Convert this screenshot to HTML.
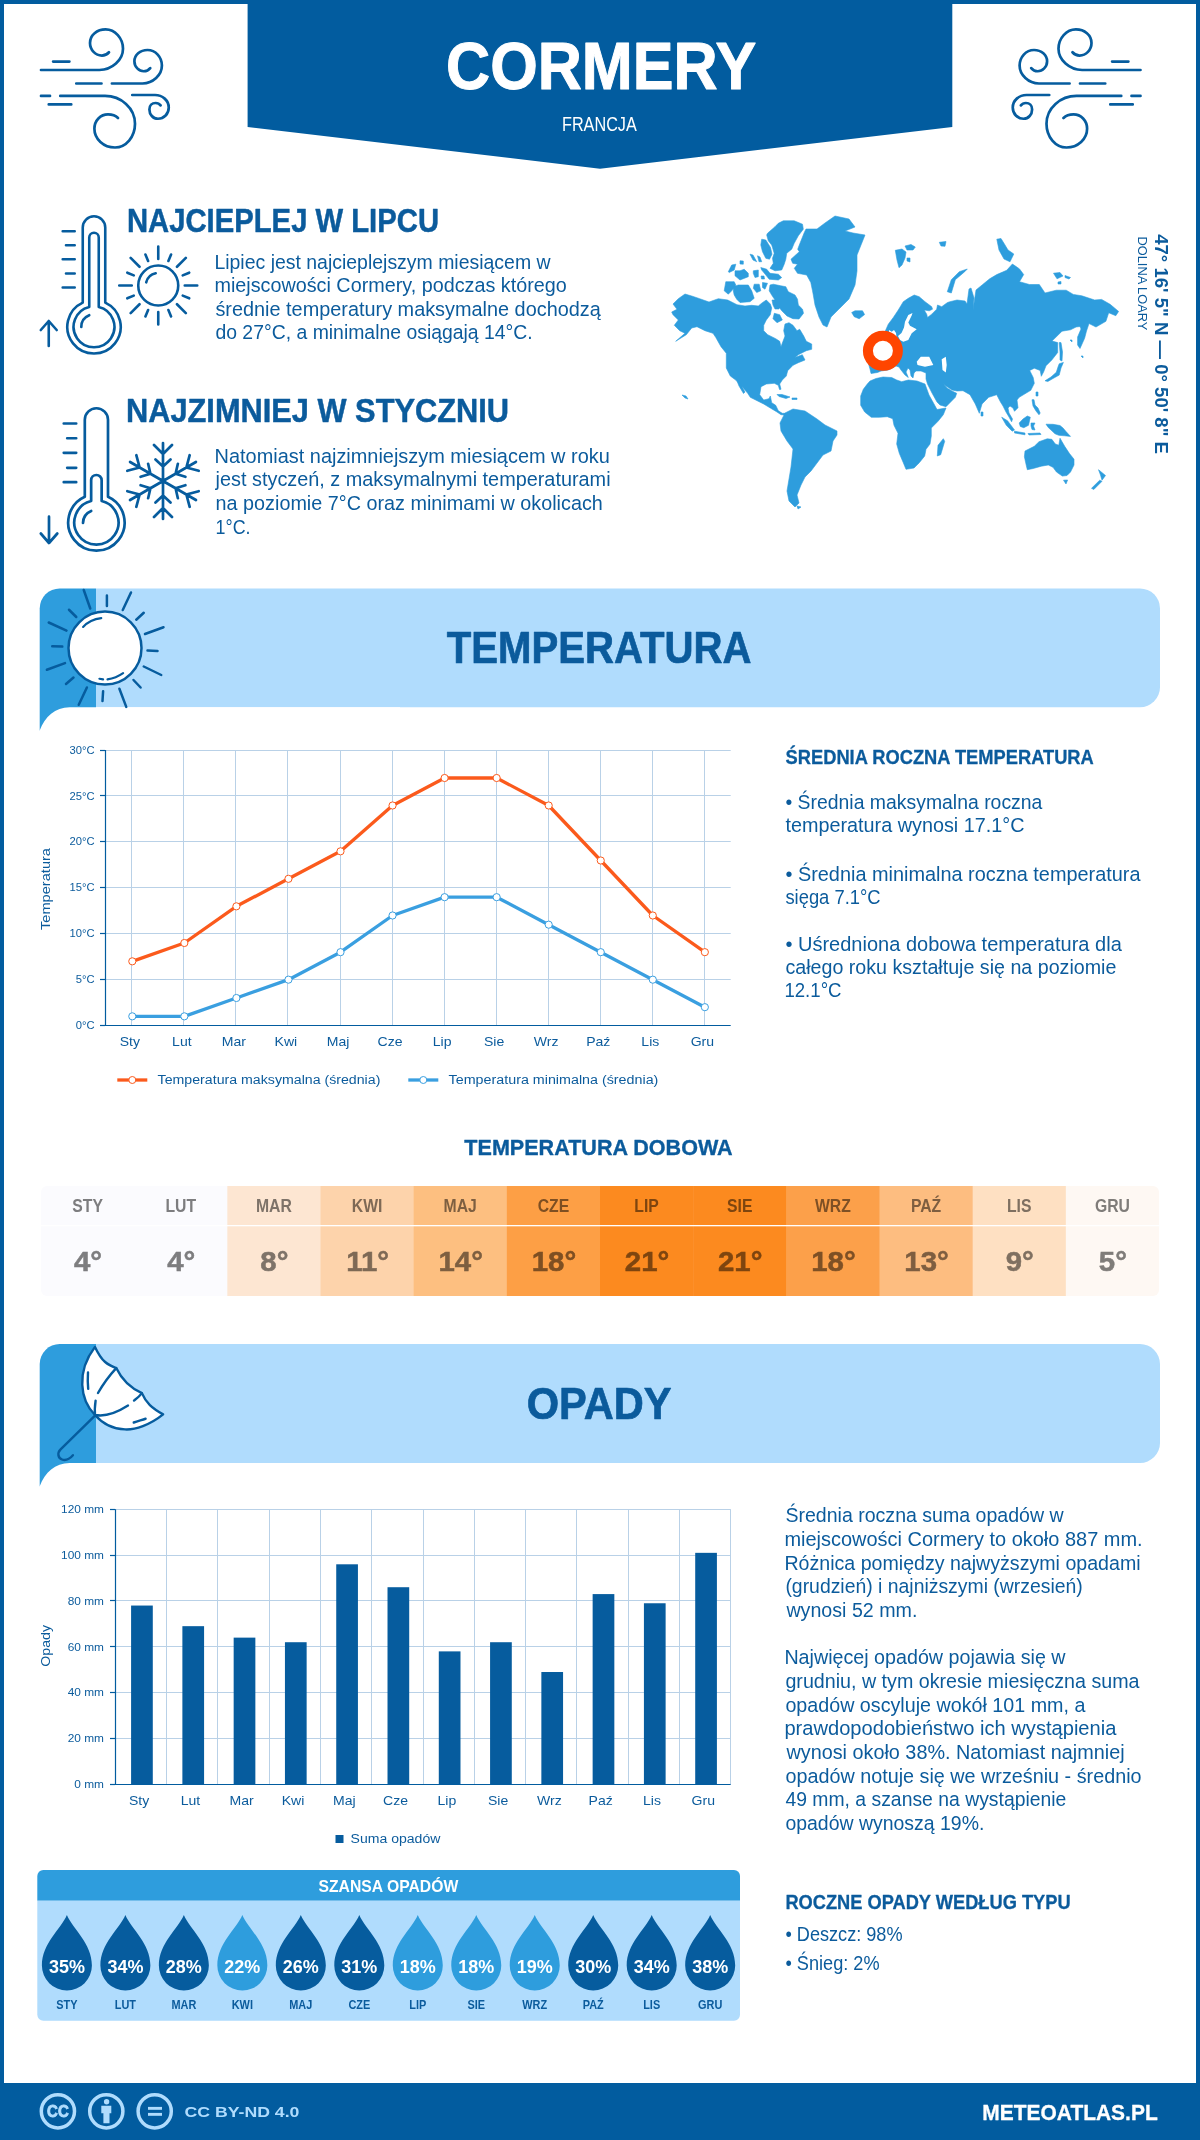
<!DOCTYPE html>
<html><head><meta charset="utf-8">
<style>
*{margin:0;padding:0;box-sizing:border-box}
html,body{width:1200px;height:2140px;overflow:hidden;background:#fff}
body{position:relative;font-family:"Liberation Sans",sans-serif;color:#0b5b9c}
svg{position:absolute;left:0;top:0;font-family:"Liberation Sans",sans-serif;will-change:transform}
</style></head><body>
<svg width="1200" height="2140" viewBox="0 0 1200 2140">

<rect x="2" y="2" width="1196" height="2140" fill="none" stroke="#025c9f" stroke-width="4"/>
<polygon points="247.6,0 952.3,0 952.3,126.9 600,168.75 247.6,126.9" fill="#025c9f"/>
<text x="446.00" y="89" font-size="66.5" textLength="310.19" lengthAdjust="spacingAndGlyphs" font-weight="bold" stroke="#fff" stroke-width="1.0" stroke-linejoin="round" fill="#fff" >CORMERY</text>
<text x="562.00" y="131" font-size="20" textLength="74.80" lengthAdjust="spacingAndGlyphs" fill="#fff" >FRANCJA</text>
<g fill="none" stroke="#065c9e" stroke-width="2.7" stroke-linecap="round"><path d="M53.1,61.6 H69.4 M41,70 H99.4 C112,70 123,60 123,48.75 C123,38 115,29.4 105.6,29.4 C97,29.4 90,35 90,43 C90,50 95.5,55.6 101.9,55.6 C105,55.6 107.5,54 109,52.25
M76.25,83.5 H101.5 M111.9,83.5 H142.5 C153,83.5 161.9,75 161.9,65.6 C161.9,57 155.5,50 147.5,50 C140,50 134.4,55 134.4,61.25 C134.4,67 139,71.25 143.75,71.25 C146.5,71.25 148.8,70 150.25,68.1
M41,95.9 H50 M60.25,95.9 H105 C121,95.9 135,108 135,123.75 C135,137 126,147.5 115,147.5 C103.5,147.5 94.4,139 94.4,128.75 C94.4,120.5 100.5,114.4 108,114.4 C112.5,114.4 116,116 118,118
M48.75,104.4 H71.25 M132.25,95 H155 C162.5,95 168.75,100.5 168.75,107.5 C168.75,114 164,118.75 158,118.75 C153,118.75 149.4,114.5 149.4,109.4 C149.4,105.5 152,103 155.6,103 C158,103 159.6,104 160.6,105.4"/></g>
<g fill="none" stroke="#065c9e" stroke-width="2.7" stroke-linecap="round" transform="translate(1181.5,0) scale(-1,1)"><path d="M53.1,61.6 H69.4 M41,70 H99.4 C112,70 123,60 123,48.75 C123,38 115,29.4 105.6,29.4 C97,29.4 90,35 90,43 C90,50 95.5,55.6 101.9,55.6 C105,55.6 107.5,54 109,52.25
M76.25,83.5 H101.5 M111.9,83.5 H142.5 C153,83.5 161.9,75 161.9,65.6 C161.9,57 155.5,50 147.5,50 C140,50 134.4,55 134.4,61.25 C134.4,67 139,71.25 143.75,71.25 C146.5,71.25 148.8,70 150.25,68.1
M41,95.9 H50 M60.25,95.9 H105 C121,95.9 135,108 135,123.75 C135,137 126,147.5 115,147.5 C103.5,147.5 94.4,139 94.4,128.75 C94.4,120.5 100.5,114.4 108,114.4 C112.5,114.4 116,116 118,118
M48.75,104.4 H71.25 M132.25,95 H155 C162.5,95 168.75,100.5 168.75,107.5 C168.75,114 164,118.75 158,118.75 C153,118.75 149.4,114.5 149.4,109.4 C149.4,105.5 152,103 155.6,103 C158,103 159.6,104 160.6,105.4"/></g>
<g fill="none" stroke="#065c9e" stroke-width="2.6" stroke-linecap="round" stroke-linejoin="round">
<path d="M82.75,302.6 V227.5 A11.25,11.25 0 0 1 105.25,227.5 V302.6 A26.7,26.7 0 1 1 82.75,302.6 Z"/>
<path d="M89.25,307 V237.5 A4.75,4.75 0 0 1 98.75,237.5 V307 A20.4,20.4 0 1 1 89.25,307 Z"/>
<path d="M81.3,327 A12.7,12.7 0 0 1 89.25,315.2"/>
<path d="M62.7,231.25 H74.7 M66,245.2 H74.7 M62.7,259.3 H74.7 M66,273.5 H74.7 M62.7,287.5 H74.7"/>
<path d="M48.75,346 V321 M40.8,330 L48.75,321 L56.7,330"/>
<circle cx="158.25" cy="285.5" r="20"/>
<path d="M146.2,282.3 A12.5,12.5 0 0 1 155.7,273.3"/>
<path d="M184.75,285.50 L197.25,285.50 M176.99,304.24 L185.83,313.08 M158.25,312.00 L158.25,324.50 M139.51,304.24 L130.67,313.08 M131.75,285.50 L119.25,285.50 M139.51,266.76 L130.67,257.92 M158.25,259.00 L158.25,246.50 M176.99,266.76 L185.83,257.92 M182.73,295.64 L189.20,298.32 M168.39,309.98 L171.07,316.45 M148.11,309.98 L145.43,316.45 M133.77,295.64 L127.30,298.32 M133.77,275.36 L127.30,272.68 M148.11,261.02 L145.43,254.55 M168.39,261.02 L171.07,254.55 M182.73,275.36 L189.20,272.68 "/>
</g>
<g fill="none" stroke="#065c9e" stroke-width="2.7" stroke-linecap="round" stroke-linejoin="round">
<path d="M84.8,496.8 V419.85 A11.6,11.6 0 0 1 108,419.85 V496.8 A28.2,28.2 0 1 1 84.8,496.8 Z"/>
<path d="M91.15,501 V480.25 A5.25,5.25 0 0 1 101.65,480.25 V501 A22.1,22.1 0 1 1 91.15,501 Z"/>
<path d="M83,523 A13.3,13.3 0 0 1 91.2,511"/>
<path d="M63.75,423.5 H76.2 M67.2,438.25 H76.2 M63.75,452.8 H76.2 M67.2,467.8 H76.2 M63.75,482.2 H76.2"/>
<path d="M49,516.7 V543 M40.8,533.5 L49,543 L57.3,533.5"/>
<path d="M163.00,481.00 L163.00,443.00 M172.00,445.00 L163.00,454.00 L154.00,445.00 M170.50,459.50 L163.00,466.50 L155.50,459.50 M163.00,481.00 L195.91,462.00 M198.68,470.79 L186.38,467.50 L189.68,455.21 M185.37,476.75 L175.56,473.75 L177.87,463.75 M163.00,481.00 L195.91,500.00 M189.68,506.79 L186.38,494.50 L198.68,491.21 M177.87,498.25 L175.56,488.25 L185.37,485.25 M163.00,481.00 L163.00,519.00 M154.00,517.00 L163.00,508.00 L172.00,517.00 M155.50,502.50 L163.00,495.50 L170.50,502.50 M163.00,481.00 L130.09,500.00 M127.32,491.21 L139.62,494.50 L136.32,506.79 M140.63,485.25 L150.44,488.25 L148.13,498.25 M163.00,481.00 L130.09,462.00 M136.32,455.21 L139.62,467.50 L127.32,470.79 M148.13,463.75 L150.44,473.75 L140.63,476.75 "/>
</g>
<text x="126.99" y="232" font-size="33.6" textLength="312.02" lengthAdjust="spacingAndGlyphs" font-weight="bold" stroke="#0b5b9c" stroke-width="0.5" stroke-linejoin="round" fill="#0b5b9c" >NAJCIEPLEJ W LIPCU</text>
<text x="214.42" y="269" font-size="19.3" textLength="336.16" lengthAdjust="spacingAndGlyphs" fill="#0b5b9c" >Lipiec jest najcieplejszym miesiącem w</text>
<text x="214.42" y="292" font-size="19.3" textLength="352.36" lengthAdjust="spacingAndGlyphs" fill="#0b5b9c" >miejscowości Cormery, podczas którego</text>
<text x="215.42" y="315.7" font-size="19.3" textLength="385.36" lengthAdjust="spacingAndGlyphs" fill="#0b5b9c" >średnie temperatury maksymalne dochodzą</text>
<text x="215.42" y="339.3" font-size="19.3" textLength="317.36" lengthAdjust="spacingAndGlyphs" fill="#0b5b9c" >do 27°C, a minimalne osiągają 14°C.</text>
<text x="125.99" y="422" font-size="33.6" textLength="383.02" lengthAdjust="spacingAndGlyphs" font-weight="bold" stroke="#0b5b9c" stroke-width="0.5" stroke-linejoin="round" fill="#0b5b9c" >NAJZIMNIEJ W STYCZNIU</text>
<text x="214.62" y="463" font-size="19.3" textLength="395.16" lengthAdjust="spacingAndGlyphs" fill="#0b5b9c" >Natomiast najzimniejszym miesiącem w roku</text>
<text x="215.62" y="486" font-size="19.3" textLength="394.96" lengthAdjust="spacingAndGlyphs" fill="#0b5b9c" >jest styczeń, z maksymalnymi temperaturami</text>
<text x="215.62" y="509.7" font-size="19.3" textLength="387.16" lengthAdjust="spacingAndGlyphs" fill="#0b5b9c" >na poziomie 7°C oraz minimami w okolicach</text>
<text x="215.62" y="533.7" font-size="19.3" textLength="34.96" lengthAdjust="spacingAndGlyphs" fill="#0b5b9c" >1°C.</text>
<path d="M673,304 L678.3,298.7 L685,294 L691.7,296 L699.7,298.7 L709,302 L718.3,298.7 L727.7,300 L737,304.7 L745,306 L751.7,305.3 L758.3,306 L762.3,302.7 L766.3,300 L770.3,304 L771.7,308 L770.3,314.7 L766.3,320 L763.7,325.3 L763.7,330.7 L767.7,334.7 L775.7,338.7 L779.7,341.3 L781,346.7 L783,341.3 L785,336 L783.7,330.7 L785,324 L789,322.7 L793,325.3 L797,330.7 L799.7,329.3 L803.7,336 L806.3,341.3 L811.7,344 L811.7,349.3 L806.3,350.7 L798.3,354.7 L795,357.5 L802.3,354.7 L805,360 L798.3,362.7 L793,365.3 L787.7,370.7 L786.3,376 L782.3,380 L779.7,384 L781,389.3 L779.5,389.5 L778.3,385.3 L774.3,383.3 L766.3,384 L761,386.7 L759.7,394.7 L763.7,400 L769,398.7 L770.3,396 L771.7,402.7 L775.7,405.3 L778.3,410.7 L782.3,413.3 L785,413.3 L785,415 L781,414.7 L777,412 L770.3,408 L763.7,404 L755.7,400 L750.3,397.3 L747.7,393.3 L742.3,386.7 L735.7,380 L730.3,376 L726.3,368 L726.3,360 L726.3,353.3 L721,346.7 L715.7,337.3 L713,333.3 L705,330.7 L697,326.7 L691.7,328 L686.3,334.7 L675.7,341.3 L685,333.3 L679.7,330.7 L674.3,325.3 L678.3,320 L673,314.7 L671.7,312 L677,309.3 Z M737,381 L739.5,382 L745,392 L743.5,393.5 L739,386 Z M774.3,313.3 L779.7,314.7 L782.3,320 L777,322.7 L773,318.7 Z M785,413 L793,409 L805,411 L817,419 L825,425 L837,431 L837,435 L833,441 L831,451 L823,455 L817,463 L811,471 L805,477 L801,485 L797,495 L799,503 L795,507 L789,501 L787,491 L789,479 L791,467 L793,449 L787,441 L781,431 L780,423 Z M804.3,232.5 L806,229 L817,229 L825,223 L835,216 L849,219 L855,227 L845,231 L853,233 L865,235 L861,245 L857,255 L857,271 L855,285 L849,299 L839,309 L831,317 L827,327 L823,325 L819,317 L815,305 L813.3,295 L812.5,290.8 L810.8,282.5 L806.7,275 L797.5,273.3 L794.3,268.3 L797.5,264.2 L792.7,263.3 L791,259.2 L799.3,251.7 L797.7,249.2 L799.3,245 Z M767.5,233.3 L775,226.7 L778.3,223.3 L783.3,220.8 L794.2,220.8 L802.5,224.2 L803.3,229.2 L798.3,235.8 L794.2,243.3 L791.7,249.2 L786.7,253.3 L785.8,259.2 L784.2,264.2 L781.7,270 L775,270.8 L770,268.3 L773.3,263.3 L772.5,258.3 L774.2,253.3 L772.5,247.5 L771.7,245 L768.3,240.8 L766.7,235 Z M761.7,239.2 L765.8,240 L770.5,247.5 L772,254.2 L769.5,259.2 L765.8,258.3 L762.5,251.7 L760.8,245 Z M760.8,267.5 L766.7,269.2 L770,273.3 L778.3,274.2 L781.7,277.5 L778.3,280 L769.2,279.2 L765.8,275 L761.7,270 Z M770,285 L773.3,284.2 L780.8,285.8 L785.8,286.7 L788.3,291.7 L795,295 L797.5,299.2 L798.3,305 L802.5,309.2 L803.5,313.3 L799,319 L793,318.7 L787,316 L782,311 L778,306 L775,300 L771.7,295 L769.2,290.8 Z M733.3,286.7 L738.3,285 L748.3,285 L751.7,290.8 L754.2,298.3 L750,301.7 L740,302.5 L736.7,299.2 L734.2,295 L733.3,290.8 Z M725.8,281.7 L734.2,281.7 L735.8,285 L731.7,290.8 L728.3,294.2 L724.2,290.8 Z M754.2,284.2 L759.2,284.2 L760.8,290.8 L756.7,292.5 L753.3,288.3 Z M762.5,282.5 L767.5,283.3 L765,289.2 L762.5,287.5 Z M735,270.8 L740,270.8 L744.2,269.2 L748.3,273.3 L748.3,276.7 L740,280 L735,275.8 Z M728.3,271.7 L731.7,265 L735.8,264.2 L734.2,270 L729.2,272.5 Z M753.3,270.8 L758.3,270 L758.3,276.7 L755,277.5 L753.3,273.3 Z M750,254.2 L753,255 L756.7,261.7 L753,260 Z M757.5,255.8 L760,257 L761.7,261.7 L759,261.7 Z M740,260.8 L743.3,261 L743.3,264.2 L740,264 Z M761,276 L764,276 L764.5,279 L761.5,279 Z M772,300 L776,300 L780,304 L779,309 L775,309 L773,305 Z M851.7,312.5 L855,310.8 L862.5,310.8 L864.6,314.6 L859.2,318.75 L854.2,316.7 Z M870,369 L868,362 L872,352 L878,342 L884,334 L888.3,324.2 L893.3,317.5 L898.3,310 L903.3,301.7 L908.3,298.3 L914.2,295 L919.2,296.7 L925,301.7 L931.7,306.7 L932.5,309.2 L929.2,310.8 L924.2,310 L926.7,314.2 L927.5,317.5 L931.7,314.2 L936.7,309.2 L937.5,305 L941.7,306.7 L947.5,302.5 L950,301.7 L957,300 L965,301 L967,304 L969,289 L971,288 L974,298 L973,310 L976,290 L982.7,284.5 L989.7,278.8 L996.8,274.6 L1006.7,270.3 L1012.4,264 L1019.5,268.9 L1023.7,274.6 L1019.5,281.7 L1029.4,284.5 L1039.3,284.5 L1045,293 L1056.3,290.2 L1066.2,290.2 L1073.3,294.4 L1081.8,295.8 L1094.6,300 L1101.6,299.4 L1110.1,304.3 L1118.6,311.4 L1115.8,315.7 L1108.7,312.8 L1105.9,321.3 L1096,327 L1089,323.5 L1086.5,331 L1084.6,338.3 L1080,348.5 L1077.6,345 L1077.6,337 L1081,329 L1080,326.5 L1076.1,327 L1070.5,329.8 L1062,331.2 L1052,341.1 L1057.7,342.6 L1057.7,352.5 L1051.8,360 L1046,365.8 L1043.7,371.7 L1041.3,376.3 L1040.2,370.5 L1034.3,368.2 L1029.7,370.5 L1033.2,377.5 L1034.3,383.3 L1030.8,390.3 L1025,393.8 L1019.2,397.3 L1017,400 L1018,407.8 L1014.5,411.3 L1013,408 L1010,406 L1008,408 L1009,413 L1012.5,419 L1011.6,421.8 L1009,417 L1006,412 L1003,406 L1000.5,402 L996.7,394.7 L988.7,397.3 L982,404 L979.3,413.3 L975.3,404 L970,394.7 L963,390.7 L957,391 L952,390 L946,386 L943,383 L947,388 L952,391 L956.7,393.3 L955.3,397.3 L946,406.7 L940,405 L937,402 L932,393 L927.5,384 L926,379 L926,373 L921,371 L916,371 L914,373 L913,378 L911,376 L910,370 L908,368 L906,372 L908.3,377.5 L905,375 L901,370 L899,367 L896,366 L892,368 L888,370 L881,371 L877.5,372.5 L871,373.5 Z M870,381 L876,378.5 L883,377 L891.7,377.5 L896.7,380 L901.7,381.7 L908.3,380 L917,381 L925,384 L929,395 L934,404 L937,409.5 L946,408 L943.3,414.7 L938,421.3 L931.3,428 L931.3,436 L930,444 L926,449.3 L924.7,456 L919.3,462.7 L914,468 L906,469.3 L903.3,462.7 L899.3,453.3 L896.7,444 L898,433.3 L894,425.3 L892.7,418.7 L887.3,416.7 L879.3,417.3 L871.3,417.3 L864.7,412 L860.7,405.3 L860.7,396 L863.3,389.3 L867.3,384 Z M938,445.3 L943.3,438.7 L944.7,441.3 L940.7,454.7 L937.3,456 Z M895.3,250.3 L902,249 L906,252 L905,258 L902,265 L899,267.7 L897,260 Z M905,246 L911,244.5 L915.3,247 L913,250 L907,250 Z M939.3,242.3 L946,241.5 L945,246.3 L941,246 Z M907,258 L910,258 L910,262 L907,261 Z M947.3,291.7 L951.3,279.7 L959.3,271.7 L967.3,269 L964.7,271.7 L955.3,279.7 L951.3,293 Z M996.8,239.2 L1001,238.5 L1005,245 L1008,250 L1013.8,254 L1010,261.8 L1004,259 L999,250 Z M1053.5,273.2 L1060,272.5 L1063,276 L1057,278.8 Z M1065,275.5 L1070.5,277.5 L1069,279 L1065,277.5 Z M1058,282 L1061,281.5 L1061,284 L1058,284 Z M1045,380.8 L1051,377 L1056.3,372.3 L1058,367 L1059.2,363.8 L1063.4,362.4 L1061,368 L1059.2,375.1 L1053,378.5 L1047.8,381.5 Z M1059.2,342.6 L1061,342.6 L1062.5,352 L1062,361 L1060,360 L1060,352 Z M1032,399.7 L1034,399.7 L1035,405 L1038,408 L1040.2,413 L1039,414.8 L1036,411 L1033,406 Z M1019.2,423 L1023,419 L1027.3,416 L1030.3,417.2 L1028.5,425.3 L1023.8,427.7 L1020.3,426.5 Z M1001.7,417.2 L1007.5,420.7 L1014.5,430 L1012.2,431.2 L1006.3,425.3 Z M1014.5,431.2 L1025,433 L1025,434.8 L1014.5,433 Z M1031,423 L1035,423 L1033.5,426 L1035,430 L1032,429.5 L1031,426 Z M1046,424.2 L1053,424.3 L1060,425.5 L1063,428 L1066,431.5 L1070.5,436.4 L1064.7,435.8 L1058.8,435.3 L1055,433.8 L1051,430 L1048.3,427.5 Z M1028,433.5 L1040,433 L1041,434.5 L1029,435 Z M1025,451 L1034.3,446.3 L1039,441.7 L1047.2,438.8 L1051.8,439.3 L1055.3,444 L1058.8,445.2 L1060,438.2 L1064.7,446.3 L1069.3,453.3 L1074,459.2 L1074,465 L1070.5,472 L1067,475.5 L1062.3,476.1 L1056.5,472 L1053,467.3 L1048.3,465 L1041.3,466.2 L1033.2,468.5 L1027.3,469.7 L1026.2,465 L1024.4,456.8 Z M1063.5,480.2 L1067.6,480 L1066,484 Z M1098.5,469.7 L1105.5,475.5 L1102,480.2 L1100.5,475 Z M1099.7,480.2 L1102,481.3 L1093.8,489.5 L1091.5,488.3 Z M682,395 L686,396 L688,399 L685,398 Z M777,394.5 L782,394.5 L790,397 L786,398.5 L779,396.5 Z M792,398 L797,398 L797,399.5 L792,399.5 Z M1081,356 L1083,356 L1083,358 Z M1070,340 L1072,340 L1072,342 Z M981,412 L983,412 L983,416 L981,416 Z M1036,392 L1038,392 L1038,396 L1036,396 Z M797,506 L801,507 L798,509 Z " fill="#2e9ddd" stroke="#2e9ddd" stroke-width="0.6" stroke-linejoin="round"/>
<path d="M916.7,361.7 L920.8,356.7 L929.2,356.7 L933.3,365 L925,366.7 L917.5,365 Z M941.7,359.2 L945.8,356.7 L946.7,365 L945.8,372.5 L942.5,370 Z M898,336 L901.5,333 L904,327.5 L905,321.7 L908.3,315 L912.5,313 L911.7,315.5 L908.3,322.5 L910,325.8 L916.7,329.2 L911.7,333.3 L908.3,340 L903.3,341.7 L900,340 Z M889.2,330 L891.7,331.7 L894,330 L896,333 L896.5,337 L893,340 L888,338 Z " fill="#fff"/>
<circle cx="882.9" cy="350.8" r="15" fill="#fff" stroke="#ff4500" stroke-width="10"/>
<text transform="translate(1154.5,234.2) rotate(90)" font-size="19" font-weight="bold" fill="#0b5b9c" textLength="219.8" lengthAdjust="spacingAndGlyphs">47° 16' 5" N — 0° 50' 8" E</text>
<text transform="translate(1137.5,236.4) rotate(90)" font-size="12.5" fill="#0b5b9c" textLength="94" lengthAdjust="spacingAndGlyphs">DOLINA LOARY</text>
<path d="M39.7,608.4 A20,20 0 0 1 59.7,588.4 H96 V733.4 H39.7 Z" fill="#2e9ddd"/><path d="M96,588.4 H1140 A20,20 0 0 1 1160,608.4 V687.1999999999999 A20,20 0 0 1 1140,707.1999999999999 H96 Z" fill="#b0dcfd"/><path d="M36,730.5999999999999 H39.7 C45,716.4 55,707.5999999999999 69.7,707.1999999999999 H400 V748.4 H36 Z" fill="#fff"/><g fill="none" stroke="#065c9e" stroke-width="2.5" stroke-linecap="round">
<circle cx="105" cy="648.1" r="36.5" fill="#fff"/>
<path d="M83.75,590 L90.25,608.5 M106.9,595.6 L106.9,606 M131,592.5 L122.75,610 M143.75,612.75 L136.25,619.75 M163.5,627.25 L145,634 M157.5,651 L147.5,650.6 M161.25,675 L143.75,666.5 M140.6,687.5 L133.5,680 M126.25,706.9 L119.4,688.75 M102.5,701 L103.1,691.25 M78.75,704.75 L86.9,687.5 M66,684 L73.5,677.5 M46.9,669.75 L65,663.1 M52.25,646.25 L62.25,646.6 M48.75,622.5 L66.5,630.6 M69,609.75 L76.25,617"/>
<path d="M83.1,626.9 Q90,619.5 101.25,618.1 M107.5,679.4 Q116,678 123.1,673.1 M99.4,678.75 L103.1,679.4" stroke-width="2.2"/>
</g><text x="446.68" y="662.6" font-size="44" textLength="304.84" lengthAdjust="spacingAndGlyphs" font-weight="bold" stroke="#0b5b9c" stroke-width="0.7" stroke-linejoin="round" fill="#0b5b9c" >TEMPERATURA</text>
<g stroke="#b9d1e7" stroke-width="1" fill="none"><line x1="105.3" y1="979.5" x2="730.7" y2="979.5"/><line x1="105.3" y1="933.5" x2="730.7" y2="933.5"/><line x1="105.3" y1="887.5" x2="730.7" y2="887.5"/><line x1="105.3" y1="841.5" x2="730.7" y2="841.5"/><line x1="105.3" y1="795.5" x2="730.7" y2="795.5"/><line x1="105.3" y1="750.5" x2="730.7" y2="750.5"/><line x1="131.5" y1="750" x2="131.5" y2="1025"/><line x1="183.5" y1="750" x2="183.5" y2="1025"/><line x1="235.5" y1="750" x2="235.5" y2="1025"/><line x1="287.5" y1="750" x2="287.5" y2="1025"/><line x1="340.5" y1="750" x2="340.5" y2="1025"/><line x1="392.5" y1="750" x2="392.5" y2="1025"/><line x1="444.5" y1="750" x2="444.5" y2="1025"/><line x1="496.5" y1="750" x2="496.5" y2="1025"/><line x1="548.5" y1="750" x2="548.5" y2="1025"/><line x1="600.5" y1="750" x2="600.5" y2="1025"/><line x1="652.5" y1="750" x2="652.5" y2="1025"/><line x1="704.5" y1="750" x2="704.5" y2="1025"/></g>
<g stroke="#025c9f" stroke-width="1.2"><line x1="105.5" y1="750" x2="105.5" y2="1026"/><line x1="105.3" y1="1025.5" x2="730.7" y2="1025.5"/>
<line x1="100" y1="1025.5" x2="105.3" y2="1025.5"/>
<line x1="100" y1="979.5" x2="105.3" y2="979.5"/>
<line x1="100" y1="933.5" x2="105.3" y2="933.5"/>
<line x1="100" y1="887.5" x2="105.3" y2="887.5"/>
<line x1="100" y1="841.5" x2="105.3" y2="841.5"/>
<line x1="100" y1="795.5" x2="105.3" y2="795.5"/>
<line x1="100" y1="750.5" x2="105.3" y2="750.5"/>
</g>
<text x="75.67" y="1028.8" font-size="11" fill="#0b5b9c" textLength="18.83" lengthAdjust="spacingAndGlyphs">0°C</text>
<text x="75.67" y="982.9666666666666" font-size="11" fill="#0b5b9c" textLength="18.83" lengthAdjust="spacingAndGlyphs">5°C</text>
<text x="69.43" y="937.1333333333333" font-size="11" fill="#0b5b9c" textLength="25.07" lengthAdjust="spacingAndGlyphs">10°C</text>
<text x="69.43" y="891.3" font-size="11" fill="#0b5b9c" textLength="25.07" lengthAdjust="spacingAndGlyphs">15°C</text>
<text x="69.43" y="845.4666666666666" font-size="11" fill="#0b5b9c" textLength="25.07" lengthAdjust="spacingAndGlyphs">20°C</text>
<text x="69.43" y="799.6333333333333" font-size="11" fill="#0b5b9c" textLength="25.07" lengthAdjust="spacingAndGlyphs">25°C</text>
<text x="69.43" y="753.8" font-size="11" fill="#0b5b9c" textLength="25.07" lengthAdjust="spacingAndGlyphs">30°C</text>
<text x="119.66" y="1046" font-size="13" fill="#0b5b9c" textLength="20.29" lengthAdjust="spacingAndGlyphs">Sty</text>
<text x="172.09" y="1046" font-size="13" fill="#0b5b9c" textLength="19.52" lengthAdjust="spacingAndGlyphs">Lut</text>
<text x="221.81" y="1046" font-size="13" fill="#0b5b9c" textLength="24.18" lengthAdjust="spacingAndGlyphs">Mar</text>
<text x="274.64" y="1046" font-size="13" fill="#0b5b9c" textLength="22.62" lengthAdjust="spacingAndGlyphs">Kwi</text>
<text x="326.69" y="1046" font-size="13" fill="#0b5b9c" textLength="22.62" lengthAdjust="spacingAndGlyphs">Maj</text>
<text x="377.57" y="1046" font-size="13" fill="#0b5b9c" textLength="24.97" lengthAdjust="spacingAndGlyphs">Cze</text>
<text x="432.73" y="1046" font-size="13" fill="#0b5b9c" textLength="18.73" lengthAdjust="spacingAndGlyphs">Lip</text>
<text x="484.00" y="1046" font-size="13" fill="#0b5b9c" textLength="20.29" lengthAdjust="spacingAndGlyphs">Sie</text>
<text x="533.85" y="1046" font-size="13" fill="#0b5b9c" textLength="24.69" lengthAdjust="spacingAndGlyphs">Wrz</text>
<text x="586.15" y="1046" font-size="13" fill="#0b5b9c" textLength="24.19" lengthAdjust="spacingAndGlyphs">Paź</text>
<text x="641.33" y="1046" font-size="13" fill="#0b5b9c" textLength="17.95" lengthAdjust="spacingAndGlyphs">Lis</text>
<text x="690.65" y="1046" font-size="13" fill="#0b5b9c" textLength="23.40" lengthAdjust="spacingAndGlyphs">Gru</text>
<text transform="translate(50,930) rotate(-90)" font-size="12.5" fill="#0b5b9c" textLength="82" lengthAdjust="spacingAndGlyphs">Temperatura</text>
<polyline points="132.30,961.33 184.35,943.00 236.40,906.33 288.45,878.83 340.50,851.33 392.55,805.50 444.60,778.00 496.65,778.00 548.70,805.50 600.75,860.50 652.80,915.50 704.85,952.17" fill="none" stroke="#fb5a1c" stroke-width="3.3" stroke-linejoin="round"/><circle cx="132.30" cy="961.33" r="3.6" fill="#fff" stroke="#fb5a1c" stroke-width="1"/><circle cx="184.35" cy="943.00" r="3.6" fill="#fff" stroke="#fb5a1c" stroke-width="1"/><circle cx="236.40" cy="906.33" r="3.6" fill="#fff" stroke="#fb5a1c" stroke-width="1"/><circle cx="288.45" cy="878.83" r="3.6" fill="#fff" stroke="#fb5a1c" stroke-width="1"/><circle cx="340.50" cy="851.33" r="3.6" fill="#fff" stroke="#fb5a1c" stroke-width="1"/><circle cx="392.55" cy="805.50" r="3.6" fill="#fff" stroke="#fb5a1c" stroke-width="1"/><circle cx="444.60" cy="778.00" r="3.6" fill="#fff" stroke="#fb5a1c" stroke-width="1"/><circle cx="496.65" cy="778.00" r="3.6" fill="#fff" stroke="#fb5a1c" stroke-width="1"/><circle cx="548.70" cy="805.50" r="3.6" fill="#fff" stroke="#fb5a1c" stroke-width="1"/><circle cx="600.75" cy="860.50" r="3.6" fill="#fff" stroke="#fb5a1c" stroke-width="1"/><circle cx="652.80" cy="915.50" r="3.6" fill="#fff" stroke="#fb5a1c" stroke-width="1"/><circle cx="704.85" cy="952.17" r="3.6" fill="#fff" stroke="#fb5a1c" stroke-width="1"/>
<polyline points="132.30,1016.33 184.35,1016.33 236.40,998.00 288.45,979.67 340.50,952.17 392.55,915.50 444.60,897.17 496.65,897.17 548.70,924.67 600.75,952.17 652.80,979.67 704.85,1007.17" fill="none" stroke="#3a9fe0" stroke-width="3.3" stroke-linejoin="round"/><circle cx="132.30" cy="1016.33" r="3.6" fill="#fff" stroke="#3a9fe0" stroke-width="1"/><circle cx="184.35" cy="1016.33" r="3.6" fill="#fff" stroke="#3a9fe0" stroke-width="1"/><circle cx="236.40" cy="998.00" r="3.6" fill="#fff" stroke="#3a9fe0" stroke-width="1"/><circle cx="288.45" cy="979.67" r="3.6" fill="#fff" stroke="#3a9fe0" stroke-width="1"/><circle cx="340.50" cy="952.17" r="3.6" fill="#fff" stroke="#3a9fe0" stroke-width="1"/><circle cx="392.55" cy="915.50" r="3.6" fill="#fff" stroke="#3a9fe0" stroke-width="1"/><circle cx="444.60" cy="897.17" r="3.6" fill="#fff" stroke="#3a9fe0" stroke-width="1"/><circle cx="496.65" cy="897.17" r="3.6" fill="#fff" stroke="#3a9fe0" stroke-width="1"/><circle cx="548.70" cy="924.67" r="3.6" fill="#fff" stroke="#3a9fe0" stroke-width="1"/><circle cx="600.75" cy="952.17" r="3.6" fill="#fff" stroke="#3a9fe0" stroke-width="1"/><circle cx="652.80" cy="979.67" r="3.6" fill="#fff" stroke="#3a9fe0" stroke-width="1"/><circle cx="704.85" cy="1007.17" r="3.6" fill="#fff" stroke="#3a9fe0" stroke-width="1"/>
<line x1="117.3" y1="1080" x2="147.3" y2="1080" stroke="#fb5a1c" stroke-width="3.3"/><circle cx="132.3" cy="1080" r="3.5" fill="#fff" stroke="#fb5a1c" stroke-width="1"/>
<text x="157.62" y="1084" font-size="12.5" textLength="222.75" lengthAdjust="spacingAndGlyphs" fill="#0b5b9c" >Temperatura maksymalna (średnia)</text>
<line x1="408.3" y1="1080" x2="438.3" y2="1080" stroke="#3a9fe0" stroke-width="3.3"/><circle cx="423.3" cy="1080" r="3.5" fill="#fff" stroke="#3a9fe0" stroke-width="1"/>
<text x="448.62" y="1084" font-size="12.5" textLength="209.75" lengthAdjust="spacingAndGlyphs" fill="#0b5b9c" >Temperatura minimalna (średnia)</text>
<text x="785.62" y="763.7" font-size="19.4" textLength="308.16" lengthAdjust="spacingAndGlyphs" font-weight="bold" stroke="#0b5b9c" stroke-width="0.3" stroke-linejoin="round" fill="#0b5b9c" >ŚREDNIA ROCZNA TEMPERATURA</text>
<text x="785.42" y="808.9" font-size="19.3" textLength="256.96" lengthAdjust="spacingAndGlyphs" fill="#0b5b9c" >• Średnia maksymalna roczna</text>
<text x="785.42" y="832.3000000000001" font-size="19.3" textLength="239.16" lengthAdjust="spacingAndGlyphs" fill="#0b5b9c" >temperatura wynosi 17.1°C</text>
<text x="785.42" y="880.6" font-size="19.3" textLength="355.16" lengthAdjust="spacingAndGlyphs" fill="#0b5b9c" >• Średnia minimalna roczna temperatura</text>
<text x="785.42" y="903.9" font-size="19.3" textLength="95.16" lengthAdjust="spacingAndGlyphs" fill="#0b5b9c" >sięga 7.1°C</text>
<text x="785.42" y="950.6" font-size="19.3" textLength="336.36" lengthAdjust="spacingAndGlyphs" fill="#0b5b9c" >• Uśredniona dobowa temperatura dla</text>
<text x="785.42" y="973.9" font-size="19.3" textLength="330.96" lengthAdjust="spacingAndGlyphs" fill="#0b5b9c" >całego roku kształtuje się na poziomie</text>
<text x="784.42" y="997.3000000000001" font-size="19.3" textLength="57.16" lengthAdjust="spacingAndGlyphs" fill="#0b5b9c" >12.1°C</text>
<text x="464.33" y="1154.5" font-size="22.2" textLength="268.33" lengthAdjust="spacingAndGlyphs" font-weight="bold" stroke="#0b5b9c" stroke-width="0.35" stroke-linejoin="round" fill="#0b5b9c" >TEMPERATURA DOBOWA</text>
<defs><clipPath id="tclip"><rect x="41" y="1186" width="1118" height="110" rx="6"/></clipPath></defs><g clip-path="url(#tclip)">
<rect x="41.00" y="1186" width="93.67" height="110" fill="#fbfbfe"/>
<rect x="134.17" y="1186" width="93.67" height="110" fill="#fbfbfe"/>
<rect x="227.33" y="1186" width="93.67" height="110" fill="#fde6d2"/>
<rect x="320.50" y="1186" width="93.67" height="110" fill="#fdd3ab"/>
<rect x="413.67" y="1186" width="93.67" height="110" fill="#fdbf80"/>
<rect x="506.83" y="1186" width="93.67" height="110" fill="#fd9f45"/>
<rect x="600.00" y="1186" width="93.67" height="110" fill="#fc8a1f"/>
<rect x="693.17" y="1186" width="93.67" height="110" fill="#fc8a1f"/>
<rect x="786.33" y="1186" width="93.67" height="110" fill="#fca04a"/>
<rect x="879.50" y="1186" width="93.67" height="110" fill="#fdbd80"/>
<rect x="972.67" y="1186" width="93.67" height="110" fill="#fee0c2"/>
<rect x="1065.83" y="1186" width="93.67" height="110" fill="#fef8f3"/>
<rect x="41" y="1225" width="1118" height="1.3" fill="#fff"/></g>
<text x="72.27" y="1212" font-size="17.5" font-weight="bold" fill="#7d7d7f" textLength="30.63" lengthAdjust="spacingAndGlyphs">STY</text>
<text x="74.03" y="1271" font-size="28" font-weight="bold" fill="#7d7d7f" stroke="#7d7d7f" stroke-width="0.5" textLength="28.10" lengthAdjust="spacingAndGlyphs">4°</text>
<text x="165.44" y="1212" font-size="17.5" font-weight="bold" fill="#7d7d7f" textLength="30.61" lengthAdjust="spacingAndGlyphs">LUT</text>
<text x="167.20" y="1271" font-size="28" font-weight="bold" fill="#7d7d7f" stroke="#7d7d7f" stroke-width="0.5" textLength="28.10" lengthAdjust="spacingAndGlyphs">4°</text>
<text x="255.98" y="1212" font-size="17.5" font-weight="bold" fill="#7e7369" textLength="35.87" lengthAdjust="spacingAndGlyphs">MAR</text>
<text x="260.36" y="1271" font-size="28" font-weight="bold" fill="#7e7369" stroke="#7e7369" stroke-width="0.5" textLength="28.10" lengthAdjust="spacingAndGlyphs">8°</text>
<text x="351.78" y="1212" font-size="17.5" font-weight="bold" fill="#7e6955" textLength="30.62" lengthAdjust="spacingAndGlyphs">KWI</text>
<text x="346.17" y="1271" font-size="28" font-weight="bold" fill="#7e6955" stroke="#7e6955" stroke-width="0.5" textLength="42.83" lengthAdjust="spacingAndGlyphs">11°</text>
<text x="443.62" y="1212" font-size="17.5" font-weight="bold" fill="#7e5f40" textLength="33.25" lengthAdjust="spacingAndGlyphs">MAJ</text>
<text x="438.52" y="1271" font-size="28" font-weight="bold" fill="#7e5f40" stroke="#7e5f40" stroke-width="0.5" textLength="44.45" lengthAdjust="spacingAndGlyphs">14°</text>
<text x="537.67" y="1212" font-size="17.5" font-weight="bold" fill="#7e4f22" textLength="31.50" lengthAdjust="spacingAndGlyphs">CZE</text>
<text x="531.69" y="1271" font-size="28" font-weight="bold" fill="#7e4f22" stroke="#7e4f22" stroke-width="0.5" textLength="44.45" lengthAdjust="spacingAndGlyphs">18°</text>
<text x="634.33" y="1212" font-size="17.5" font-weight="bold" fill="#7e450f" textLength="24.50" lengthAdjust="spacingAndGlyphs">LIP</text>
<text x="624.86" y="1271" font-size="28" font-weight="bold" fill="#7e450f" stroke="#7e450f" stroke-width="0.5" textLength="44.45" lengthAdjust="spacingAndGlyphs">21°</text>
<text x="727.06" y="1212" font-size="17.5" font-weight="bold" fill="#7e450f" textLength="25.39" lengthAdjust="spacingAndGlyphs">SIE</text>
<text x="718.02" y="1271" font-size="28" font-weight="bold" fill="#7e450f" stroke="#7e450f" stroke-width="0.5" textLength="44.45" lengthAdjust="spacingAndGlyphs">21°</text>
<text x="814.99" y="1212" font-size="17.5" font-weight="bold" fill="#7e5025" textLength="35.86" lengthAdjust="spacingAndGlyphs">WRZ</text>
<text x="811.19" y="1271" font-size="28" font-weight="bold" fill="#7e5025" stroke="#7e5025" stroke-width="0.5" textLength="44.45" lengthAdjust="spacingAndGlyphs">18°</text>
<text x="910.92" y="1212" font-size="17.5" font-weight="bold" fill="#7e5e40" textLength="30.33" lengthAdjust="spacingAndGlyphs">PAŹ</text>
<text x="904.36" y="1271" font-size="28" font-weight="bold" fill="#7e5e40" stroke="#7e5e40" stroke-width="0.5" textLength="44.45" lengthAdjust="spacingAndGlyphs">13°</text>
<text x="1007.00" y="1212" font-size="17.5" font-weight="bold" fill="#7f7061" textLength="24.50" lengthAdjust="spacingAndGlyphs">LIS</text>
<text x="1005.70" y="1271" font-size="28" font-weight="bold" fill="#7f7061" stroke="#7f7061" stroke-width="0.5" textLength="28.10" lengthAdjust="spacingAndGlyphs">9°</text>
<text x="1094.92" y="1212" font-size="17.5" font-weight="bold" fill="#7f7c79" textLength="35.00" lengthAdjust="spacingAndGlyphs">GRU</text>
<text x="1098.86" y="1271" font-size="28" font-weight="bold" fill="#7f7c79" stroke="#7f7c79" stroke-width="0.5" textLength="28.10" lengthAdjust="spacingAndGlyphs">5°</text>
<path d="M39.7,1364.1 A20,20 0 0 1 59.7,1344.1 H96 V1489.1 H39.7 Z" fill="#2e9ddd"/><path d="M96,1344.1 H1140 A20,20 0 0 1 1160,1364.1 V1442.8999999999999 A20,20 0 0 1 1140,1462.8999999999999 H96 Z" fill="#b0dcfd"/><path d="M36,1486.3 H39.7 C45,1472.1 55,1463.3 69.7,1462.8999999999999 H400 V1504.1 H36 Z" fill="#fff"/><g fill="none" stroke="#065c9e" stroke-width="2.4" stroke-linecap="round" stroke-linejoin="round">
<path d="M95,1346.9 C102,1362 108,1365 116.25,1368.1 C122,1380 130,1388 141.9,1393.1 C146,1403 152,1408 163.1,1414.4 C150,1425 135,1430 125,1429.4 C112,1429 102,1423 95,1415 C80,1400 76,1372 95,1346.9 Z" fill="#fff"/>
<path d="M116.25,1368.1 C108,1377 102,1386 98,1393 M95.6,1400.6 C95,1405 94.5,1410 95,1415 M141.9,1393.1 C139,1397 136,1399 134,1400.6 M128,1405.6 C118,1412 105,1417 95,1415 M88,1372.5 C87.5,1380 87.8,1385 88.2,1388.8 M133.75,1422.5 C138,1421 142,1420 145.6,1418.75"/>
<path d="M95,1415.6 L60.6,1449.4 C57,1453 58,1458 62,1459.5 C66,1461 70,1458.5 72.9,1455.25"/>
</g><text x="526.68" y="1419.2" font-size="44" textLength="144.84" lengthAdjust="spacingAndGlyphs" font-weight="bold" stroke="#0b5b9c" stroke-width="0.7" stroke-linejoin="round" fill="#0b5b9c" >OPADY</text>
<g stroke="#b9d1e7" stroke-width="1" fill="none"><line x1="115.3" y1="1738.5" x2="730.7" y2="1738.5"/><line x1="115.3" y1="1692.5" x2="730.7" y2="1692.5"/><line x1="115.3" y1="1646.5" x2="730.7" y2="1646.5"/><line x1="115.3" y1="1600.5" x2="730.7" y2="1600.5"/><line x1="115.3" y1="1555.5" x2="730.7" y2="1555.5"/><line x1="115.3" y1="1509.5" x2="730.7" y2="1509.5"/><line x1="166.5" y1="1509.3" x2="166.5" y2="1784.3"/><line x1="217.5" y1="1509.3" x2="217.5" y2="1784.3"/><line x1="269.5" y1="1509.3" x2="269.5" y2="1784.3"/><line x1="320.5" y1="1509.3" x2="320.5" y2="1784.3"/><line x1="371.5" y1="1509.3" x2="371.5" y2="1784.3"/><line x1="423.5" y1="1509.3" x2="423.5" y2="1784.3"/><line x1="474.5" y1="1509.3" x2="474.5" y2="1784.3"/><line x1="525.5" y1="1509.3" x2="525.5" y2="1784.3"/><line x1="576.5" y1="1509.3" x2="576.5" y2="1784.3"/><line x1="628.5" y1="1509.3" x2="628.5" y2="1784.3"/><line x1="679.5" y1="1509.3" x2="679.5" y2="1784.3"/><line x1="730.5" y1="1509.3" x2="730.5" y2="1784.3"/></g>
<rect x="131.09" y="1605.55" width="21.7" height="178.75" fill="#065c9e"/>
<rect x="182.38" y="1626.17" width="21.7" height="158.12" fill="#065c9e"/>
<rect x="233.66" y="1637.63" width="21.7" height="146.67" fill="#065c9e"/>
<rect x="284.94" y="1642.22" width="21.7" height="142.08" fill="#065c9e"/>
<rect x="336.23" y="1564.30" width="21.7" height="220.00" fill="#065c9e"/>
<rect x="387.51" y="1587.22" width="21.7" height="197.08" fill="#065c9e"/>
<rect x="438.79" y="1651.38" width="21.7" height="132.92" fill="#065c9e"/>
<rect x="490.08" y="1642.22" width="21.7" height="142.08" fill="#065c9e"/>
<rect x="541.36" y="1672.01" width="21.7" height="112.29" fill="#065c9e"/>
<rect x="592.64" y="1594.09" width="21.7" height="190.21" fill="#065c9e"/>
<rect x="643.92" y="1603.26" width="21.7" height="181.04" fill="#065c9e"/>
<rect x="695.21" y="1552.84" width="21.7" height="231.46" fill="#065c9e"/>
<g stroke="#025c9f" stroke-width="1.2"><line x1="115.5" y1="1509.3" x2="115.5" y2="1785"/><line x1="115.3" y1="1784.5" x2="730.7" y2="1784.5"/>
<line x1="110" y1="1784.5" x2="115.3" y2="1784.5"/>
<line x1="110" y1="1738.5" x2="115.3" y2="1738.5"/>
<line x1="110" y1="1692.5" x2="115.3" y2="1692.5"/>
<line x1="110" y1="1646.5" x2="115.3" y2="1646.5"/>
<line x1="110" y1="1600.5" x2="115.3" y2="1600.5"/>
<line x1="110" y1="1555.5" x2="115.3" y2="1555.5"/>
<line x1="110" y1="1509.5" x2="115.3" y2="1509.5"/>
</g>
<text x="74.30" y="1788.1" font-size="11" fill="#0b5b9c" textLength="29.70" lengthAdjust="spacingAndGlyphs">0 mm</text>
<text x="67.70" y="1742.2666666666667" font-size="11" fill="#0b5b9c" textLength="36.30" lengthAdjust="spacingAndGlyphs">20 mm</text>
<text x="67.70" y="1696.4333333333332" font-size="11" fill="#0b5b9c" textLength="36.30" lengthAdjust="spacingAndGlyphs">40 mm</text>
<text x="67.70" y="1650.6" font-size="11" fill="#0b5b9c" textLength="36.30" lengthAdjust="spacingAndGlyphs">60 mm</text>
<text x="67.70" y="1604.7666666666667" font-size="11" fill="#0b5b9c" textLength="36.30" lengthAdjust="spacingAndGlyphs">80 mm</text>
<text x="61.09" y="1558.9333333333332" font-size="11" fill="#0b5b9c" textLength="42.91" lengthAdjust="spacingAndGlyphs">100 mm</text>
<text x="61.09" y="1513.1" font-size="11" fill="#0b5b9c" textLength="42.91" lengthAdjust="spacingAndGlyphs">120 mm</text>
<text x="129.00" y="1805" font-size="13" fill="#0b5b9c" textLength="20.29" lengthAdjust="spacingAndGlyphs">Sty</text>
<text x="180.67" y="1805" font-size="13" fill="#0b5b9c" textLength="19.52" lengthAdjust="spacingAndGlyphs">Lut</text>
<text x="229.62" y="1805" font-size="13" fill="#0b5b9c" textLength="24.18" lengthAdjust="spacingAndGlyphs">Mar</text>
<text x="281.68" y="1805" font-size="13" fill="#0b5b9c" textLength="22.62" lengthAdjust="spacingAndGlyphs">Kwi</text>
<text x="332.96" y="1805" font-size="13" fill="#0b5b9c" textLength="22.62" lengthAdjust="spacingAndGlyphs">Maj</text>
<text x="383.07" y="1805" font-size="13" fill="#0b5b9c" textLength="24.97" lengthAdjust="spacingAndGlyphs">Cze</text>
<text x="437.47" y="1805" font-size="13" fill="#0b5b9c" textLength="18.73" lengthAdjust="spacingAndGlyphs">Lip</text>
<text x="487.98" y="1805" font-size="13" fill="#0b5b9c" textLength="20.29" lengthAdjust="spacingAndGlyphs">Sie</text>
<text x="537.06" y="1805" font-size="13" fill="#0b5b9c" textLength="24.69" lengthAdjust="spacingAndGlyphs">Wrz</text>
<text x="588.60" y="1805" font-size="13" fill="#0b5b9c" textLength="24.19" lengthAdjust="spacingAndGlyphs">Paź</text>
<text x="643.00" y="1805" font-size="13" fill="#0b5b9c" textLength="17.95" lengthAdjust="spacingAndGlyphs">Lis</text>
<text x="691.56" y="1805" font-size="13" fill="#0b5b9c" textLength="23.40" lengthAdjust="spacingAndGlyphs">Gru</text>
<text transform="translate(50,1666.7) rotate(-90)" font-size="12.5" fill="#0b5b9c" textLength="41.7" lengthAdjust="spacingAndGlyphs">Opady</text>
<rect x="335.5" y="1835" width="8" height="8" fill="#065c9e"/>
<text x="350.62" y="1843" font-size="12.5" textLength="89.75" lengthAdjust="spacingAndGlyphs" fill="#0b5b9c" >Suma opadów</text>
<text x="785.42" y="1522.3" font-size="19.3" textLength="278.16" lengthAdjust="spacingAndGlyphs" fill="#0b5b9c" >Średnia roczna suma opadów w</text>
<text x="784.42" y="1545.95" font-size="19.3" textLength="358.16" lengthAdjust="spacingAndGlyphs" fill="#0b5b9c" >miejscowości Cormery to około 887 mm.</text>
<text x="784.42" y="1569.6" font-size="19.3" textLength="356.16" lengthAdjust="spacingAndGlyphs" fill="#0b5b9c" >Różnica pomiędzy najwyższymi opadami</text>
<text x="785.42" y="1593.25" font-size="19.3" textLength="297.36" lengthAdjust="spacingAndGlyphs" fill="#0b5b9c" >(grudzień) i najniższymi (wrzesień)</text>
<text x="786.42" y="1616.8999999999999" font-size="19.3" textLength="130.96" lengthAdjust="spacingAndGlyphs" fill="#0b5b9c" >wynosi 52 mm.</text>
<text x="784.42" y="1664.3" font-size="19.3" textLength="281.16" lengthAdjust="spacingAndGlyphs" fill="#0b5b9c" >Najwięcej opadów pojawia się w</text>
<text x="785.42" y="1687.98" font-size="19.3" textLength="354.16" lengthAdjust="spacingAndGlyphs" fill="#0b5b9c" >grudniu, w tym okresie miesięczna suma</text>
<text x="785.42" y="1711.6599999999999" font-size="19.3" textLength="299.96" lengthAdjust="spacingAndGlyphs" fill="#0b5b9c" >opadów oscyluje wokół 101 mm, a</text>
<text x="784.42" y="1735.34" font-size="19.3" textLength="331.96" lengthAdjust="spacingAndGlyphs" fill="#0b5b9c" >prawdopodobieństwo ich wystąpienia</text>
<text x="786.42" y="1759.02" font-size="19.3" textLength="338.16" lengthAdjust="spacingAndGlyphs" fill="#0b5b9c" >wynosi około 38%. Natomiast najmniej</text>
<text x="785.42" y="1782.7" font-size="19.3" textLength="356.16" lengthAdjust="spacingAndGlyphs" fill="#0b5b9c" >opadów notuje się we wrześniu - średnio</text>
<text x="785.42" y="1806.3799999999999" font-size="19.3" textLength="280.96" lengthAdjust="spacingAndGlyphs" fill="#0b5b9c" >49 mm, a szanse na wystąpienie</text>
<text x="785.42" y="1830.06" font-size="19.3" textLength="198.96" lengthAdjust="spacingAndGlyphs" fill="#0b5b9c" >opadów wynoszą 19%.</text>
<path d="M37.3,1876 A6,6 0 0 1 43.3,1870 H734 A6,6 0 0 1 740,1876 V1900.7 H37.3 Z" fill="#2e9ddd"/>
<path d="M37.3,1900.7 H740 V2014.7 A6,6 0 0 1 734,2020.7 H43.3 A6,6 0 0 1 37.3,2014.7 Z" fill="#b0dcfd"/>
<text x="318.51" y="1892.45" font-size="16.4" textLength="139.78" lengthAdjust="spacingAndGlyphs" font-weight="bold" fill="#fff" >SZANSA OPADÓW</text>
<path d="M66.90,1915 C72.90,1929 91.90,1943.5 91.90,1965.5 A25,25 0 0 1 41.90,1965.5 C41.90,1943.5 60.90,1929 66.90,1915 Z" fill="#065c9e"/>
<text x="48.90" y="1972.8" font-size="18.6" font-weight="bold" fill="#fff" textLength="36" lengthAdjust="spacingAndGlyphs">35%</text>
<text x="56.28" y="2009" font-size="13" font-weight="bold" fill="#0b5b9c" textLength="21.24" lengthAdjust="spacingAndGlyphs">STY</text>
<path d="M125.38,1915 C131.38,1929 150.38,1943.5 150.38,1965.5 A25,25 0 0 1 100.38,1965.5 C100.38,1943.5 119.38,1929 125.38,1915 Z" fill="#065c9e"/>
<text x="107.38" y="1972.8" font-size="18.6" font-weight="bold" fill="#fff" textLength="36" lengthAdjust="spacingAndGlyphs">34%</text>
<text x="114.77" y="2009" font-size="13" font-weight="bold" fill="#0b5b9c" textLength="21.23" lengthAdjust="spacingAndGlyphs">LUT</text>
<path d="M183.86,1915 C189.86,1929 208.86,1943.5 208.86,1965.5 A25,25 0 0 1 158.86,1965.5 C158.86,1943.5 177.86,1929 183.86,1915 Z" fill="#065c9e"/>
<text x="165.86" y="1972.8" font-size="18.6" font-weight="bold" fill="#fff" textLength="36" lengthAdjust="spacingAndGlyphs">28%</text>
<text x="171.43" y="2009" font-size="13" font-weight="bold" fill="#0b5b9c" textLength="24.87" lengthAdjust="spacingAndGlyphs">MAR</text>
<path d="M242.34,1915 C248.34,1929 267.34,1943.5 267.34,1965.5 A25,25 0 0 1 217.34,1965.5 C217.34,1943.5 236.34,1929 242.34,1915 Z" fill="#2e9ddd"/>
<text x="224.34" y="1972.8" font-size="18.6" font-weight="bold" fill="#fff" textLength="36" lengthAdjust="spacingAndGlyphs">22%</text>
<text x="231.73" y="2009" font-size="13" font-weight="bold" fill="#0b5b9c" textLength="21.23" lengthAdjust="spacingAndGlyphs">KWI</text>
<path d="M300.82,1915 C306.82,1929 325.82,1943.5 325.82,1965.5 A25,25 0 0 1 275.82,1965.5 C275.82,1943.5 294.82,1929 300.82,1915 Z" fill="#065c9e"/>
<text x="282.82" y="1972.8" font-size="18.6" font-weight="bold" fill="#fff" textLength="36" lengthAdjust="spacingAndGlyphs">26%</text>
<text x="289.29" y="2009" font-size="13" font-weight="bold" fill="#0b5b9c" textLength="23.05" lengthAdjust="spacingAndGlyphs">MAJ</text>
<path d="M359.30,1915 C365.30,1929 384.30,1943.5 384.30,1965.5 A25,25 0 0 1 334.30,1965.5 C334.30,1943.5 353.30,1929 359.30,1915 Z" fill="#065c9e"/>
<text x="341.30" y="1972.8" font-size="18.6" font-weight="bold" fill="#fff" textLength="36" lengthAdjust="spacingAndGlyphs">31%</text>
<text x="348.38" y="2009" font-size="13" font-weight="bold" fill="#0b5b9c" textLength="21.84" lengthAdjust="spacingAndGlyphs">CZE</text>
<path d="M417.78,1915 C423.78,1929 442.78,1943.5 442.78,1965.5 A25,25 0 0 1 392.78,1965.5 C392.78,1943.5 411.78,1929 417.78,1915 Z" fill="#2e9ddd"/>
<text x="399.78" y="1972.8" font-size="18.6" font-weight="bold" fill="#fff" textLength="36" lengthAdjust="spacingAndGlyphs">18%</text>
<text x="409.29" y="2009" font-size="13" font-weight="bold" fill="#0b5b9c" textLength="16.99" lengthAdjust="spacingAndGlyphs">LIP</text>
<path d="M476.26,1915 C482.26,1929 501.26,1943.5 501.26,1965.5 A25,25 0 0 1 451.26,1965.5 C451.26,1943.5 470.26,1929 476.26,1915 Z" fill="#2e9ddd"/>
<text x="458.26" y="1972.8" font-size="18.6" font-weight="bold" fill="#fff" textLength="36" lengthAdjust="spacingAndGlyphs">18%</text>
<text x="467.46" y="2009" font-size="13" font-weight="bold" fill="#0b5b9c" textLength="17.60" lengthAdjust="spacingAndGlyphs">SIE</text>
<path d="M534.74,1915 C540.74,1929 559.74,1943.5 559.74,1965.5 A25,25 0 0 1 509.74,1965.5 C509.74,1943.5 528.74,1929 534.74,1915 Z" fill="#2e9ddd"/>
<text x="516.74" y="1972.8" font-size="18.6" font-weight="bold" fill="#fff" textLength="36" lengthAdjust="spacingAndGlyphs">19%</text>
<text x="522.31" y="2009" font-size="13" font-weight="bold" fill="#0b5b9c" textLength="24.86" lengthAdjust="spacingAndGlyphs">WRZ</text>
<path d="M593.22,1915 C599.22,1929 618.22,1943.5 618.22,1965.5 A25,25 0 0 1 568.22,1965.5 C568.22,1943.5 587.22,1929 593.22,1915 Z" fill="#065c9e"/>
<text x="575.22" y="1972.8" font-size="18.6" font-weight="bold" fill="#fff" textLength="36" lengthAdjust="spacingAndGlyphs">30%</text>
<text x="582.71" y="2009" font-size="13" font-weight="bold" fill="#0b5b9c" textLength="21.03" lengthAdjust="spacingAndGlyphs">PAŹ</text>
<path d="M651.70,1915 C657.70,1929 676.70,1943.5 676.70,1965.5 A25,25 0 0 1 626.70,1965.5 C626.70,1943.5 645.70,1929 651.70,1915 Z" fill="#065c9e"/>
<text x="633.70" y="1972.8" font-size="18.6" font-weight="bold" fill="#fff" textLength="36" lengthAdjust="spacingAndGlyphs">34%</text>
<text x="643.21" y="2009" font-size="13" font-weight="bold" fill="#0b5b9c" textLength="16.99" lengthAdjust="spacingAndGlyphs">LIS</text>
<path d="M710.18,1915 C716.18,1929 735.18,1943.5 735.18,1965.5 A25,25 0 0 1 685.18,1965.5 C685.18,1943.5 704.18,1929 710.18,1915 Z" fill="#065c9e"/>
<text x="692.18" y="1972.8" font-size="18.6" font-weight="bold" fill="#fff" textLength="36" lengthAdjust="spacingAndGlyphs">38%</text>
<text x="698.05" y="2009" font-size="13" font-weight="bold" fill="#0b5b9c" textLength="24.27" lengthAdjust="spacingAndGlyphs">GRU</text>
<text x="785.42" y="1908.75" font-size="19.3" textLength="285.16" lengthAdjust="spacingAndGlyphs" font-weight="bold" stroke="#0b5b9c" stroke-width="0.3" stroke-linejoin="round" fill="#0b5b9c" >ROCZNE OPADY WEDŁUG TYPU</text>
<text x="785.42" y="1941.25" font-size="19.3" textLength="117.16" lengthAdjust="spacingAndGlyphs" fill="#0b5b9c" >• Deszcz: 98%</text>
<text x="785.42" y="1970" font-size="19.3" textLength="94.16" lengthAdjust="spacingAndGlyphs" fill="#0b5b9c" >• Śnieg: 2%</text>
<rect x="0" y="2083" width="1200" height="57" fill="#025c9f"/>
<g fill="none" stroke="#b0dcfd" stroke-width="3.5">
<circle cx="57.9" cy="2111.3" r="16.6"/><circle cx="106.3" cy="2111.3" r="16.6"/><circle cx="154.7" cy="2111.3" r="16.6"/></g>
<text x="47.1" y="2117.4" font-size="16.5" font-weight="bold" fill="#b0dcfd" stroke="#b0dcfd" stroke-width="0.9" textLength="21.6" lengthAdjust="spacingAndGlyphs">CC</text>
<g fill="#b0dcfd"><circle cx="106.6" cy="2101.7" r="2.7"/><path d="M101.3,2105.75 H111.3 V2113.3 H109.5 V2123.25 H103.4 V2113.3 H101.3 Z"/><rect x="148" y="2106.9" width="14" height="2.9"/><rect x="148" y="2112.9" width="14" height="2.9"/></g>
<text x="184.56" y="2116.5" font-size="14.5" textLength="114.87" lengthAdjust="spacingAndGlyphs" font-weight="bold" fill="#b0dcfd" >CC BY-ND 4.0</text>
<text x="982.33" y="2120" font-size="22.5" textLength="175.35" lengthAdjust="spacingAndGlyphs" font-weight="bold" stroke="#fff" stroke-width="0.3" stroke-linejoin="round" fill="#fff" >METEOATLAS.PL</text>
</svg></body></html>
